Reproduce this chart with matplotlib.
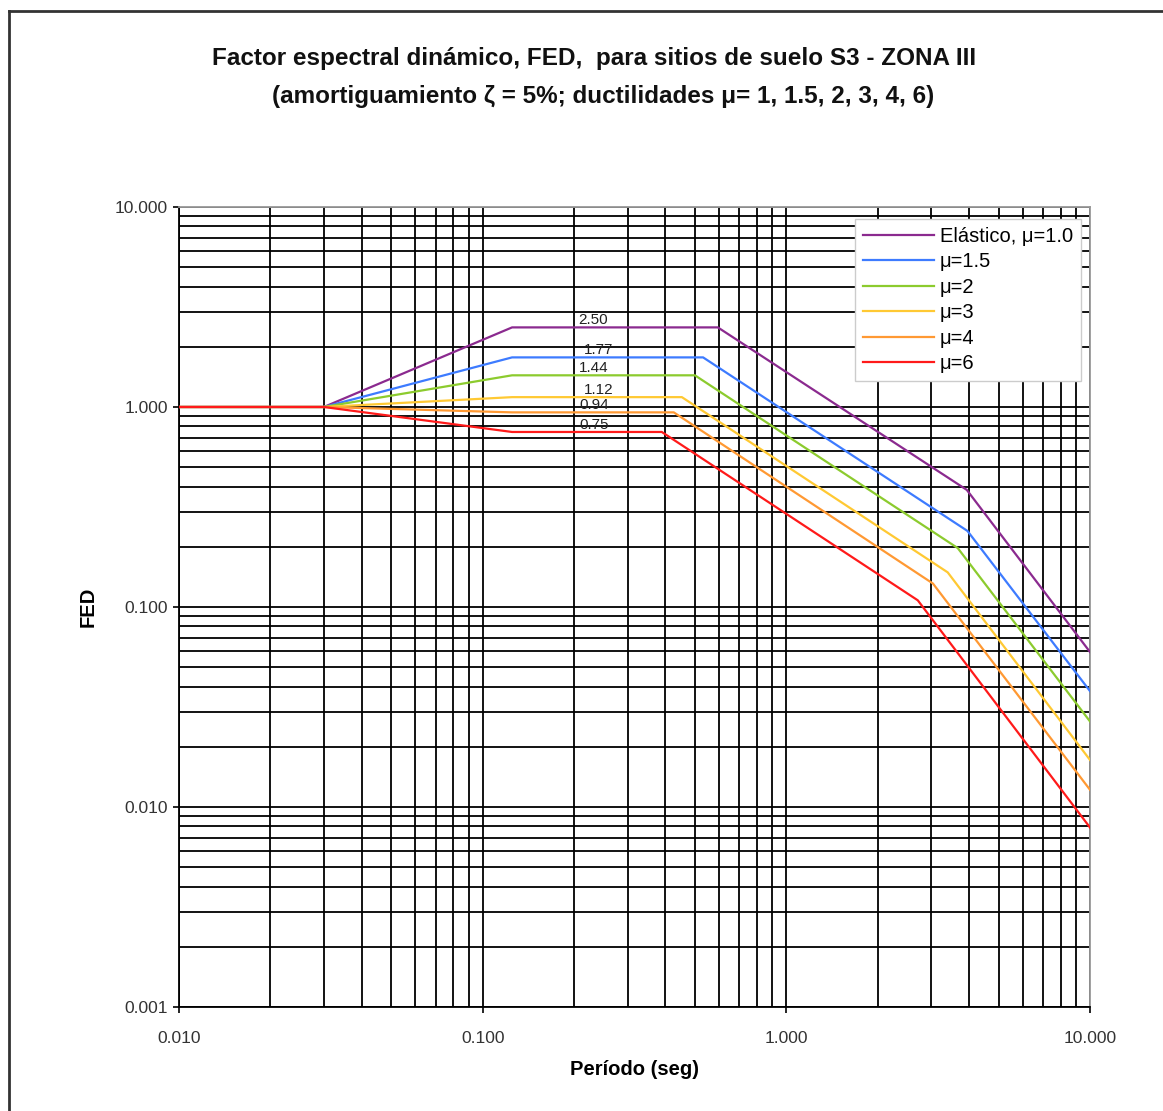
import matplotlib
matplotlib.use('Agg')
import numpy as np
import matplotlib.pyplot as plt
import matplotlib.ticker as mticker
from matplotlib.lines import Line2D

plt.rcParams['font.family'] = ['Liberation Sans', 'DejaVu Sans']

# periods (s) and FED values, one list per ductility
T_ELAST = [0.01, 0.03, 0.125, 0.595, 3.93, 10.0]
F_ELAST = [1.0, 1.0, 2.50, 2.50, 0.385, 0.0596]

T_MU15 = [0.01, 0.03, 0.125, 0.532, 3.95, 10.0]
F_MU15 = [1.0, 1.0, 1.77, 1.77, 0.240, 0.0380]

T_MU2 = [0.01, 0.03, 0.125, 0.50, 3.67, 10.0]
F_MU2 = [1.0, 1.0, 1.44, 1.44, 0.197, 0.0268]

T_MU3 = [0.01, 0.03, 0.125, 0.453, 3.40, 10.0]
F_MU3 = [1.0, 1.0, 1.12, 1.12, 0.149, 0.0172]

T_MU4 = [0.01, 0.03, 0.125, 0.426, 3.04, 10.0]
F_MU4 = [1.0, 1.0, 0.94, 0.94, 0.131, 0.0122]

T_MU6 = [0.01, 0.03, 0.125, 0.389, 2.71, 10.0]
F_MU6 = [1.0, 1.0, 0.75, 0.75, 0.108, 0.0079]

SERIES = [
    ('Elástico, μ=1.0', T_ELAST, F_ELAST, '#8B2A8F'),
    ('μ=1.5',           T_MU15,  F_MU15,  '#3D7BFF'),
    ('μ=2',             T_MU2,   F_MU2,   '#8CCB2E'),
    ('μ=3',             T_MU3,   F_MU3,   '#FFC933'),
    ('μ=4',             T_MU4,   F_MU4,   '#FF9933'),
    ('μ=6',             T_MU6,   F_MU6,   '#FF1A1A'),
]

PLATEAU_LABELS = ['2.50', '1.77', '1.44', '1.12', '0.94', '0.75']
PLATEAU_VALUES = [2.50, 1.77, 1.44, 1.12, 0.94, 0.75]
LABEL_X = [0.207, 0.216, 0.208, 0.216, 0.208, 0.208]

X_TICKS = [0.01, 0.1, 1.0, 10.0]
Y_TICKS = [0.001, 0.01, 0.1, 1.0, 10.0]

fig = plt.figure(figsize=(11.63, 11.11), dpi=100, facecolor='white')
ax = fig.add_axes([0.1539, 0.0936, 0.9372 - 0.1539, 0.8137 - 0.0936])

ax.set_xscale('log')
ax.set_yscale('log')
ax.set_xlim(0.01, 10)
ax.set_ylim(0.001, 10)

for label, t, f, color in SERIES:
    ax.plot(t, f, color=color, lw=1.6, label=label, zorder=3)

for txt, val, xl in zip(PLATEAU_LABELS, PLATEAU_VALUES, LABEL_X):
    ax.annotate(txt, (xl, val), xytext=(0, 0), textcoords='offset points',
                ha='left', va='bottom', fontsize=11, color='#222222', zorder=4)

ax.xaxis.set_major_locator(mticker.FixedLocator(X_TICKS))
ax.yaxis.set_major_locator(mticker.FixedLocator(Y_TICKS))
ax.xaxis.set_minor_locator(mticker.LogLocator(base=10, subs=np.arange(2, 10)))
ax.yaxis.set_minor_locator(mticker.LogLocator(base=10, subs=np.arange(2, 10)))
ax.xaxis.set_major_formatter(mticker.FuncFormatter(lambda v, _p: f'{v:.3f}'))
ax.yaxis.set_major_formatter(mticker.FuncFormatter(lambda v, _p: f'{v:.3f}'))
ax.xaxis.set_minor_formatter(mticker.NullFormatter())
ax.yaxis.set_minor_formatter(mticker.NullFormatter())

ax.grid(which='both', color='black', lw=1.3, zorder=1)
ax.tick_params(which='major', direction='out', length=4, width=1.2,
               labelsize=12.5, labelcolor='#333333', pad=13)
ax.tick_params(axis='y', which='major', pad=4)
ax.tick_params(which='minor', length=0)

for side in ('left', 'bottom'):
    ax.spines[side].set_color('black')
    ax.spines[side].set_linewidth(1.3)
for side in ('top', 'right'):
    ax.spines[side].set_color('#999999')
    ax.spines[side].set_linewidth(1.3)

ax.set_xlabel('Período (seg)', fontsize=14.5, fontweight='bold', labelpad=10)
ax.set_ylabel('FED', fontsize=14.5, fontweight='bold', labelpad=12)

leg = ax.legend(loc='upper right', bbox_to_anchor=(0.990, 0.985),
                fontsize=14.5, frameon=True, fancybox=False,
                edgecolor='#cccccc', framealpha=1, handlelength=3.5,
                handletextpad=0.3, labelspacing=0.32, borderpad=0.4,
                borderaxespad=0)
leg.get_frame().set_linewidth(1.0)
leg.set_zorder(5)

fig.text(0.511, 0.947, 'Factor espectral dinámico, FED,  para sitios de suelo S3 - ZONA III',
         ha='center', va='center', fontsize=17.5, fontweight='bold', color='#111111')
fig.text(0.519, 0.913, '(amortiguamiento ζ = 5%; ductilidades μ= 1, 1.5, 2, 3, 4, 6)',
         ha='center', va='center', fontsize=17.5, fontweight='bold', color='#111111')

# outer frame (left and top edges visible in the reference)
fig.add_artist(Line2D([0.0075, 0.0075], [0.0, 0.9905], transform=fig.transFigure,
                      color='#333333', lw=2))
fig.add_artist(Line2D([0.0075, 1.0], [0.9905, 0.9905], transform=fig.transFigure,
                      color='#333333', lw=2))

fig.savefig('out.png', dpi=100, facecolor='white')
